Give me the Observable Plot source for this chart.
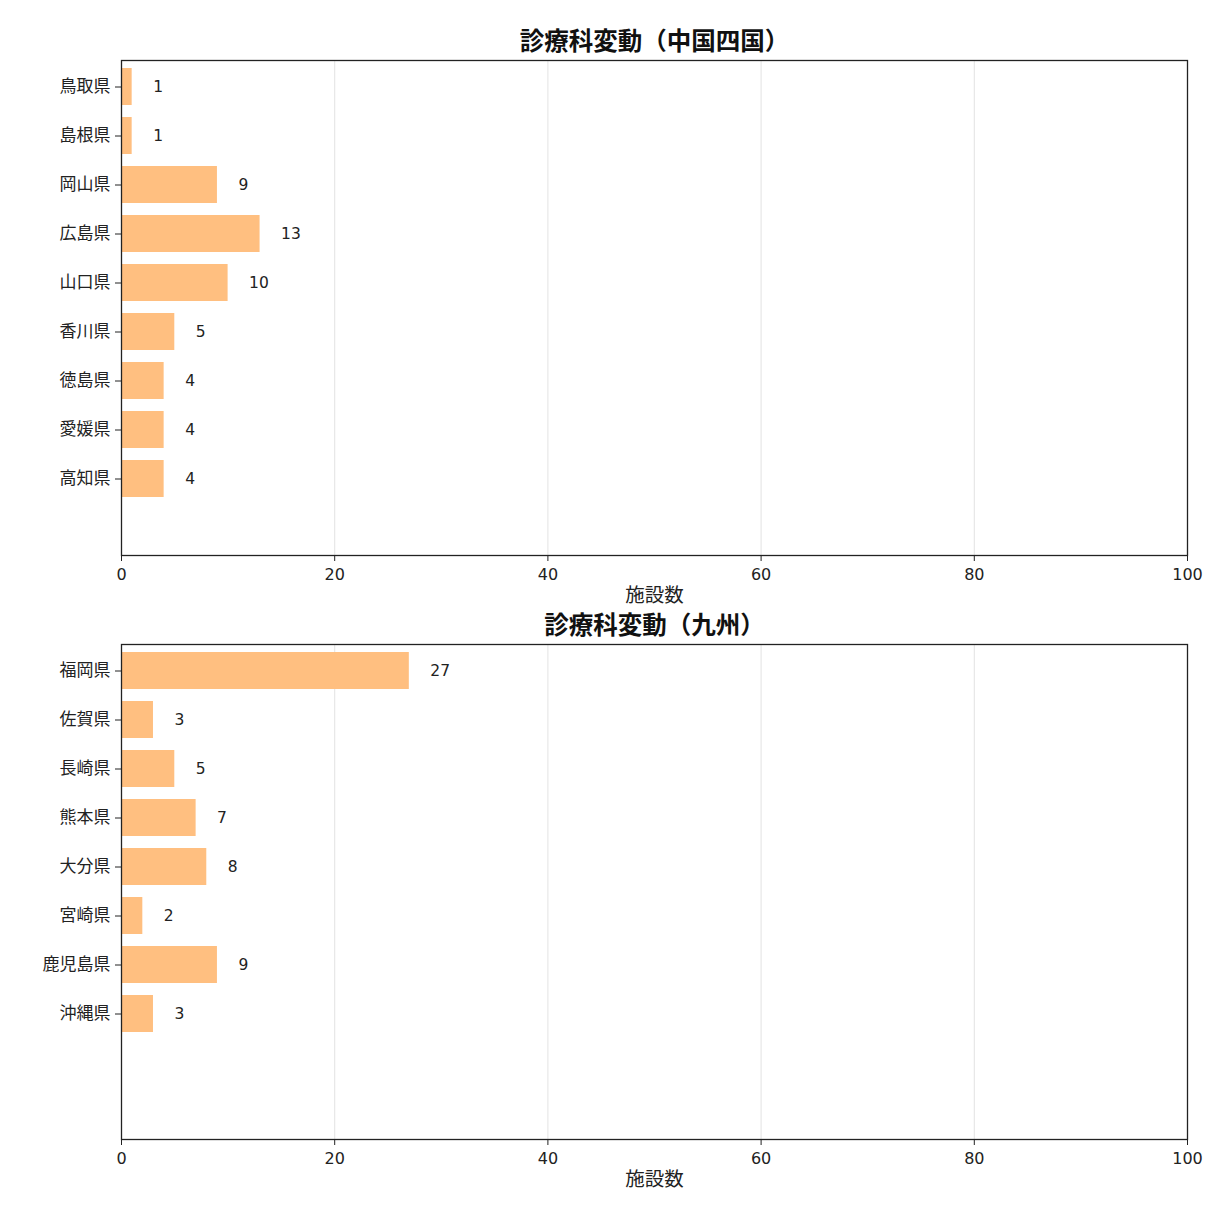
<!DOCTYPE html>
<html>
<head>
<meta charset="utf-8">
<script src="https://cdn.jsdelivr.net/npm/d3@7"></script>
<script src="https://cdn.jsdelivr.net/npm/@observablehq/plot@0.6"></script>
<style>
  html, body { margin: 0; padding: 0; background: #fff; }
  #chart { width: 1211px; }
  #chart svg { display: block; overflow: visible; }
</style>
</head>
<body>
<div id="chart"></div>
<script>
const title1 = "診療科変動（中国四国）";
const title2 = "診療科変動（九州）";
const xLabel = "施設数";
const cats1 = ["鳥取県", "島根県", "岡山県", "広島県", "山口県", "香川県", "徳島県", "愛媛県", "高知県"];
const vals1 = [1, 1, 9, 13, 10, 5, 4, 4, 4];
const cats2 = ["福岡県", "佐賀県", "長崎県", "熊本県", "大分県", "宮崎県", "鹿児島県", "沖縄県"];
const vals2 = [27, 3, 5, 7, 8, 2, 9, 3];
const xTicks = [0, 20, 40, 60, 80, 100];
const slots = 10;

const font = "'DejaVu Sans', 'Noto Sans CJK JP', sans-serif";
const cjk = "'Noto Sans CJK JP', sans-serif";
const barColor = "#ffbf80";

function panel(title, cats, vals, mTop, mBottom) {
  const data = cats.map((c, i) => ({cat: c, v: vals[i]}));
  const blanks = d3.range(slots - cats.length).map(i => "\u200b".repeat(i + 1));
  const domain = cats.concat(blanks);
  return Plot.plot({
    width: 1211,
    height: mTop + 495 + mBottom,
    marginTop: mTop,
    marginBottom: mBottom,
    marginLeft: 121,
    marginRight: 24,
    style: {fontFamily: font, fontSize: "16px", color: "#222", background: "#fff", overflow: "visible"},
    x: {domain: [0, 100]},
    y: {domain, paddingInner: 0.24, paddingOuter: 0.12},
    marks: [
      Plot.gridX(xTicks, {stroke: "#b0b0b0", strokeOpacity: 0.35, strokeWidth: 1}),
      Plot.barX(data, {x: "v", y: "cat", fill: barColor}),
      Plot.text(data, {x: "v", y: "cat", text: d => String(d.v), dx: 21, textAnchor: "start", fontSize: 15.5, fill: "#222"}),
      Plot.axisX({ticks: xTicks, tickSize: 6, tickPadding: 7, label: null, fontSize: 16, stroke: "#222"}),
      Plot.axisY({ticks: cats, tickSize: 6, tickPadding: 5, label: null, fontSize: 17, fontFamily: cjk, stroke: "#222"}),
      Plot.frame({stroke: "#222", strokeWidth: 1.3}),
      Plot.text([title], {frameAnchor: "top", lineAnchor: "middle", dy: -18, fontSize: 24.5, fontWeight: "bold", fontFamily: cjk, fill: "#111"}),
      Plot.text([xLabel], {frameAnchor: "bottom", lineAnchor: "middle", dy: 40, fontSize: 19.5, fontFamily: cjk, fill: "#222"})
    ]
  });
}

const root = document.getElementById("chart");
root.appendChild(panel(title1, cats1, vals1, 60, 58));
root.appendChild(panel(title2, cats2, vals2, 31, 72));
</script>
</body>
</html>
